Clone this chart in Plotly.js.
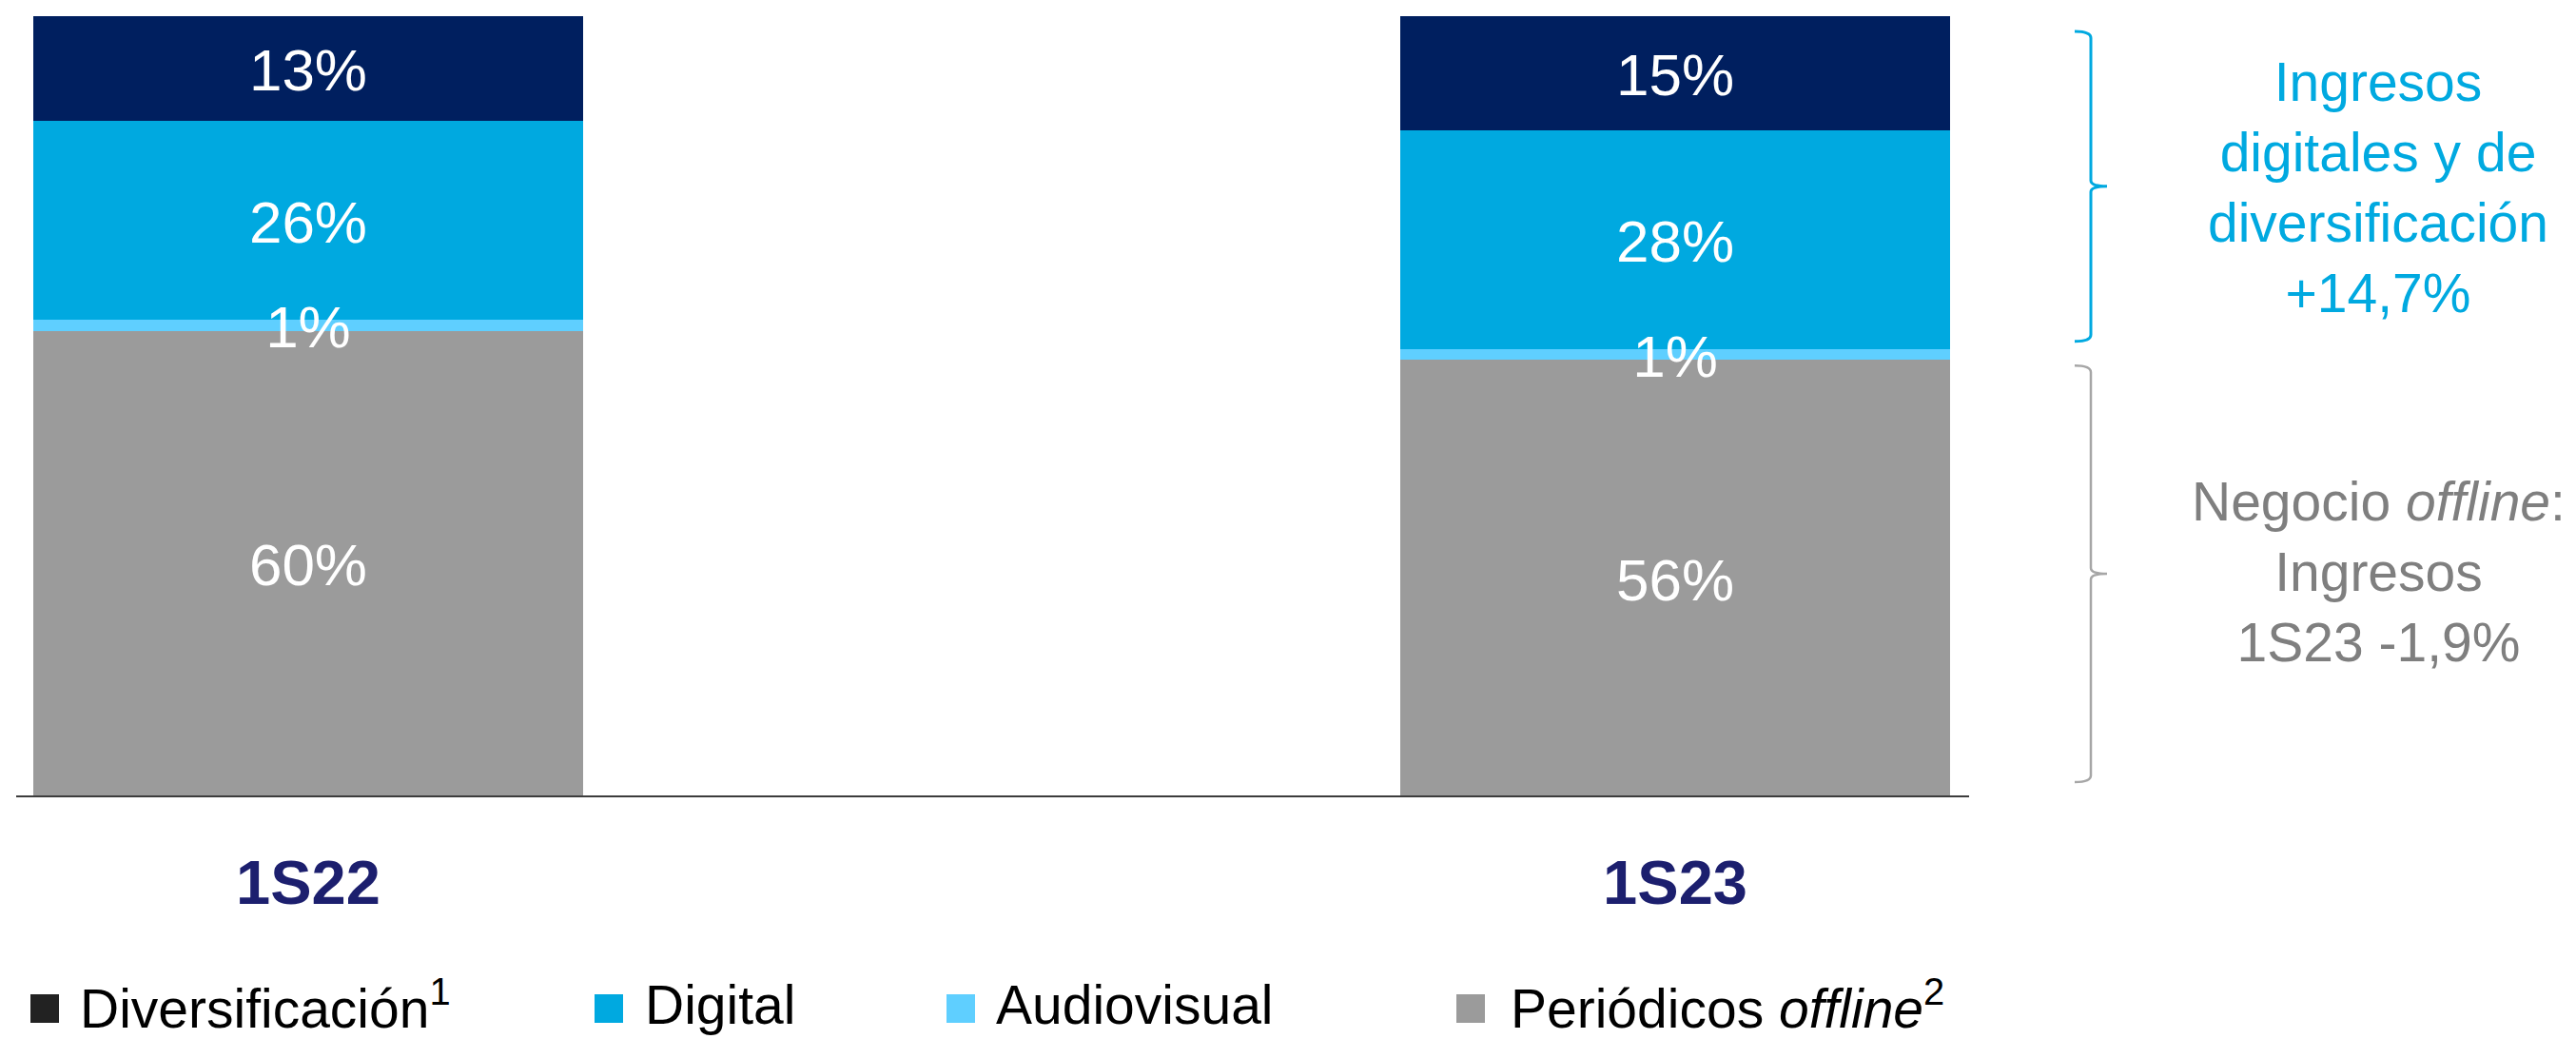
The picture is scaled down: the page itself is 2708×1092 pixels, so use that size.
<!DOCTYPE html>
<html>
<head>
<meta charset="utf-8">
<script src="https://cdn.plot.ly/plotly-3.0.1.min.js"></script>
<style>
  html, body { margin: 0; padding: 0; background: #ffffff; }
  #chart { width: 2708px; height: 1092px; }
</style>
</head>
<body>
<div id="chart"></div>
<script>
// ---- Data ----
const categories = ['1S22', '1S23'];
const periodicos = [59.6, 55.9];
const audiovisual = [1.5, 1.4];
const digital = [25.5, 28.1];
const diversificacion = [13.4, 14.6];

const periodicosLabels = ['60%', '56%'];
const audiovisualLabels = ['1%', '1%'];
const digitalLabels = ['26%', '28%'];
const diversificacionLabels = ['13%', '15%'];

const legendNames = ['Diversificación<sup>1</sup>', 'Digital', 'Audiovisual', 'Periódicos <i>offline</i><sup>2</sup>'];
const legendColors = ['#222222', '#00A9E0', '#5FCFFF', '#9B9B9B'];

const digitalGrowthText = 'Ingresos<br>digitales y de<br>diversificación<br>+14,7%';
const offlineText = 'Negocio <i>offline</i>:<br>Ingresos<br>1S23 -1,9%';

// ---- Styling / geometry ----
const COLORS = { periodicos: '#9B9B9B', audiovisual: '#5FCFFF', digital: '#00A9E0', diversificacion: '#001F5F' };
const FONT = 'Liberation Sans, Arial, Helvetica, sans-serif';
const W = 2708, H = 1092;
const ML = 17, MR = 638, MT = 17, MB = 256;
const PW = W - ML - MR, PH = H - MT - MB;
const PX = x => (x - ML) / PW;
const PY = y => (MT + PH - y) / PH;
const U = px => px * 100 / PH; // pixels -> y data units
const BARW = 0.402;

function barTrace(name, y, color) {
  return {
    type: 'bar', name: name, x: categories, y: y,
    width: BARW,
    marker: { color: color, line: { width: 0 } },
    hoverinfo: 'skip',
    showlegend: false
  };
}

// Stacked series (bottom to top) and their labels
const stackSeries = [periodicos, audiovisual, digital, diversificacion];
const stackLabels = [periodicosLabels, audiovisualLabels, digitalLabels, diversificacionLabels];

const labelX = [], labelY = [], labelText = [];
categories.forEach((c, i) => {
  let base = 0;
  stackSeries.forEach((s, k) => {
    labelX.push(c);
    labelY.push(base + s[i] / 2 - U(8));
    labelText.push(stackLabels[k][i]);
    base += s[i];
  });
});

const traces = [
  barTrace('Periódicos offline', periodicos, COLORS.periodicos),
  barTrace('Audiovisual', audiovisual, COLORS.audiovisual),
  barTrace('Digital', digital, COLORS.digital),
  barTrace('Diversificación', diversificacion, COLORS.diversificacion),
  {
    type: 'scatter', mode: 'text', x: labelX, y: labelY,
    text: labelText,
    textposition: 'middle center',
    textfont: { family: FONT, size: 62, color: '#ffffff' },
    hoverinfo: 'skip', showlegend: false, cliponaxis: false
  }
];

// ---- Braces (built from 1S23 bar) ----
function bracePath(yTop, yBot, xl, xh, xt) {
  const r = U(7), rt = U(6);
  const yMid = (yTop + yBot) / 2;
  return `M ${xh},${yTop} Q ${xl},${yTop} ${xl},${yTop - r} L ${xl},${yMid + rt} ` +
         `Q ${xl},${yMid} ${xt},${yMid} Q ${xl},${yMid} ${xl},${yMid - rt} ` +
         `L ${xl},${yBot + r} Q ${xl},${yBot} ${xh},${yBot}`;
}
const j = 1;
const xl = PX(2198), xh = PX(2181), xt = PX(2215);
const topBrace = bracePath(100 - U(16), periodicos[j] + audiovisual[j] + U(8), xl, xh, xt);
const botBrace = bracePath(periodicos[j] - U(6), U(14), xl, xh, xt);

const shapes = [
  { type: 'path', xref: 'paper', yref: 'y', path: topBrace, line: { color: '#00A9E0', width: 3 } },
  { type: 'path', xref: 'paper', yref: 'y', path: botBrace, line: { color: '#A6A6A6', width: 2.5 } }
];

// ---- Custom legend ----
const legendSquareX = [32, 625, 995, 1531];
const legendTextX = [82, 676, 1045, 1586];
const annotations = [];
legendNames.forEach((n, i) => {
  shapes.push({
    type: 'rect', xref: 'paper', yref: 'paper',
    x0: PX(legendSquareX[i]), x1: PX(legendSquareX[i] + 30),
    y0: PY(1045), y1: PY(1075),
    fillcolor: legendColors[i], line: { width: 0 }
  });
  annotations.push({
    xref: 'paper', yref: 'paper', x: PX(legendTextX[i]), y: PY(1056),
    xanchor: 'left', yanchor: 'middle', showarrow: false,
    text: n, font: { family: FONT, size: 57, color: '#000000' }
  });
});

annotations.push({
  xref: 'paper', yref: 'paper', x: PX(2500), y: PY(197), xanchor: 'center', yanchor: 'middle',
  showarrow: false, align: 'center', text: digitalGrowthText,
  font: { family: FONT, size: 57, color: '#00A9E0' }
});
annotations.push({
  xref: 'paper', yref: 'paper', x: PX(2500), y: PY(601), xanchor: 'center', yanchor: 'middle',
  showarrow: false, align: 'center', text: offlineText,
  font: { family: FONT, size: 57, color: '#7F7F7F' }
});

const layout = {
  width: W, height: H,
  margin: { l: ML, r: MR, t: MT, b: MB, pad: 0 },
  paper_bgcolor: '#ffffff', plot_bgcolor: '#ffffff',
  barmode: 'stack',
  showlegend: false,
  hovermode: false,
  xaxis: {
    type: 'category',
    range: [-0.2136, 1.215],
    showline: true, linecolor: '#3c3c3c', linewidth: 2,
    showgrid: false, zeroline: false,
    ticks: '', ticklabelstandoff: 34,
    tickfont: { family: FONT, size: 65, color: '#1C1F6E', weight: 'bold' }
  },
  yaxis: { range: [0, 100], visible: false, showgrid: false, zeroline: false },
  shapes: shapes,
  annotations: annotations,
  font: { family: FONT }
};

Plotly.newPlot('chart', traces, layout, { staticPlot: true, displayModeBar: false });
</script>
</body>
</html>
